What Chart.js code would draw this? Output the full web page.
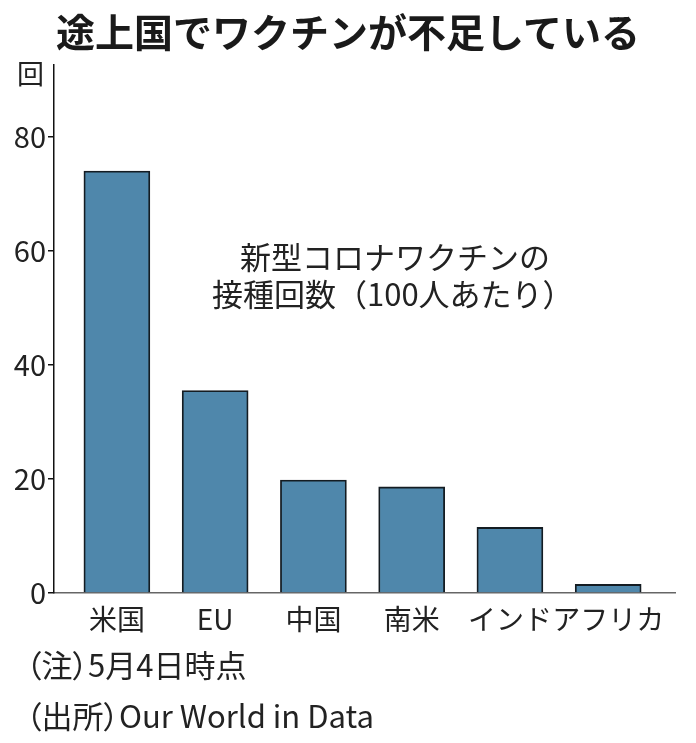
<!DOCTYPE html>
<html lang="ja">
<head>
<meta charset="utf-8">
<script src="https://cdn.jsdelivr.net/npm/chart.js@4"></script>
<style>
  html, body { margin: 0; padding: 0; background: #fff; }
  body { width: 696px; height: 743px; position: relative; overflow: hidden;
         font-family: "Noto Sans CJK JP", "Noto Sans", sans-serif; color: #222; }
  #wrap { position: absolute; left: 0; top: 0; width: 696px; height: 743px; }
  .txt { position: absolute; white-space: nowrap; line-height: 1; }
  #title { left: 0; width: 696px; top: 11px; text-align: center; font-size: 39px; font-weight: bold; color: #1a1a1a; }
  #unit { left: 17px; top: 59px; font-size: 27px; }
  #note1 { left: 240px; top: 240px; font-size: 31px; }
  #note2 { left: 212px; top: 277px; font-size: 31px; }
  .foot { left: 26px; font-size: 31px; font-feature-settings: "palt"; }
  #foot1 { top: 648px; }
  #foot2 { top: 699px; }
</style>
</head>
<body>
<div id="wrap"><canvas id="chart" width="696" height="743"></canvas></div>
<div class="txt" id="title">途上国でワクチンが不足している</div>
<div class="txt" id="unit">回</div>
<div class="txt" id="note1">新型コロナワクチンの</div>
<div class="txt" id="note2">接種回数（100人あたり）</div>
<div class="txt foot" id="foot1">（注）5月4日時点</div>
<div class="txt foot" id="foot2">（出所）Our World in Data</div>
<script>
// 接種回数（100人あたり）
const categories = ['米国', 'EU', '中国', '南米', 'インド', 'アフリカ'];
const doses = [74.0, 35.5, 19.8, 18.6, 11.5, 1.5];
const yTicks = [0, 20, 40, 60, 80];

const ctx = document.getElementById('chart');

new Chart(ctx, {
    type: 'bar',
    data: {
        datasets: [{
            data: doses.map((v, i) => ({ x: i, y: v })),
            backgroundColor: '#4f87ab',
            borderColor: '#141c22',
            borderWidth: 1.8,
            borderSkipped: 'bottom',
            barThickness: 66
        }]
    },
    options: {
        responsive: false,
        animation: false,
        devicePixelRatio: 1,
        layout: { padding: { top: 65, right: 21, left: 0, bottom: 0 } },
        plugins: {
            legend: { display: false },
            tooltip: { enabled: false }
        },
        scales: {
            x: {
                type: 'linear',
                offset: false,
                min: -0.64,
                max: 5.68,
                afterBuildTicks: (scale) => {
                    scale.ticks = categories.map((c, i) => ({ value: i }));
                },
                afterFit: (scale) => { scale.height = 150; },
                grid: { display: false },
                border: { display: true, color: '#666', width: 1.5 },
                ticks: {
                    autoSkip: false,
                    maxRotation: 0,
                    padding: 2,
                    color: '#222',
                    font: { family: '"Noto Sans CJK JP", sans-serif', size: 28 },
                    callback: (v) => categories[v]
                }
            },
            y: {
                min: 0,
                max: 92.6,
                afterBuildTicks: (scale) => {
                    scale.ticks = yTicks.map(v => ({ value: v }));
                },
                afterFit: (scale) => { scale.width = 54; },
                grid: { drawOnChartArea: false, drawTicks: true, tickLength: 6, color: '#111', lineWidth: 1.5 },
                border: { display: true, color: '#111', width: 1.5 },
                ticks: {
                    padding: 2,
                    color: '#222',
                    font: { family: '"Noto Sans CJK JP", sans-serif', size: 29 }
                }
            }
        }
    }
});
</script>
</body>
</html>
